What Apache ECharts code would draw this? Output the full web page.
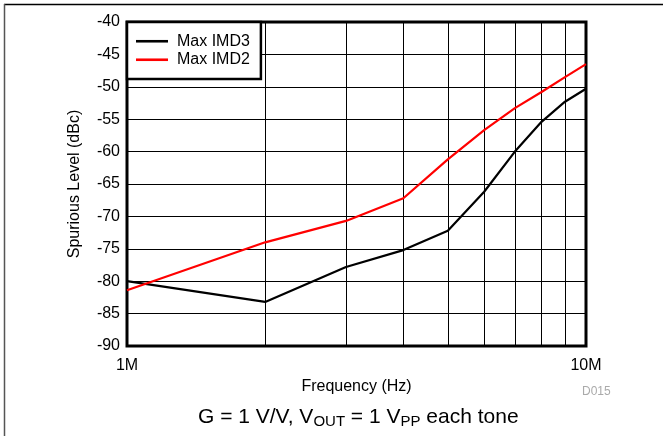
<!DOCTYPE html>
<html>
<head>
<meta charset="utf-8">
<script src="https://cdn.jsdelivr.net/npm/echarts@6/dist/echarts.min.js"></script>
<style>
  html, body { margin: 0; padding: 0; background: #fff; }
  #chart { width: 663px; height: 436px; }
</style>
</head>
<body>
<div id="chart"></div>
<script>
// ---- Data ----
const frequenciesHz = [1e6, 2e6, 3e6, 4e6, 5e6, 6e6, 7e6, 8e6, 9e6, 10e6];
const maxIMD3 = [-80.0, -83.2, -77.8, -75.2, -72.2, -66.2, -60.0, -55.4, -52.3, -50.3];
const maxIMD2 = [-81.4, -74.0, -70.7, -67.2, -61.2, -56.7, -53.3, -50.8, -48.5, -46.5];
const minorGridHz = [2e6, 3e6, 4e6, 5e6, 6e6, 7e6, 8e6, 9e6];
const seriesNames = ['Max IMD3', 'Max IMD2'];
const xAxisTitle = 'Frequency (Hz)';
const yAxisTitle = 'Spurious Level (dBc)';
const figureTag = 'D015';

const FONT = 'Liberation Sans, Arial, Helvetica, sans-serif';

function pairs(xs, ys) { return xs.map((x, i) => [x, ys[i]]); }

const chart = echarts.init(document.getElementById('chart'), null, { renderer: 'canvas' });

const option = {
  animation: false,
  backgroundColor: '#fff',
  textStyle: { fontFamily: FONT },
  grid: {
    left: 127, right: 77, top: 22, bottom: 90,
    show: true, borderColor: '#000', borderWidth: 3, backgroundColor: 'transparent'
  },
  legend: {
    orient: 'vertical',
    left: 127, top: 22,
    padding: [10, 11, 10, 9],
    backgroundColor: '#fff',
    borderColor: '#000',
    borderWidth: 2.5,
    itemWidth: 32,
    itemHeight: 14,
    itemGap: 0,
    textStyle: { fontSize: 16, color: '#000', fontFamily: FONT, lineHeight: 18.5, padding: [0, 0, 0, 4] },
    data: seriesNames.map(n => ({ name: n, icon: 'path://M0,0 L32,0 L32,2.6 L0,2.6 Z' })),
    selectedMode: false,
    z: 10
  },
  xAxis: {
    type: 'log',
    logBase: 10,
    min: 1e6, max: 1e7,
    name: xAxisTitle,
    nameLocation: 'middle',
    nameGap: 30,
    nameTextStyle: { fontSize: 16, color: '#000', fontFamily: FONT },
    axisLine: { show: false },
    axisTick: { show: false },
    splitLine: { show: false },
    axisLabel: {
      fontSize: 16, color: '#000', margin: 12, fontFamily: FONT,
      formatter: v => (v / 1e6) + 'M'
    }
  },
  yAxis: {
    type: 'value',
    min: -90, max: -40, interval: 5,
    name: yAxisTitle,
    nameLocation: 'middle',
    nameGap: 44,
    nameTextStyle: { fontSize: 16, color: '#000', fontFamily: FONT },
    axisLine: { show: false },
    axisTick: { show: false },
    splitLine: { show: true, lineStyle: { color: '#000', width: 1 } },
    axisLabel: { fontSize: 16, color: '#000', margin: 7, fontFamily: FONT }
  },
  series: [
    {
      name: seriesNames[0],
      type: 'line',
      data: pairs(frequenciesHz, maxIMD3),
      symbol: 'none',
      lineStyle: { color: '#000', width: 2.2 },
      itemStyle: { color: '#000' },
      z: 5,
      markLine: {
        silent: true,
        symbol: ['none', 'none'],
        label: { show: false },
        lineStyle: { color: '#000', width: 1, type: 'solid' },
        data: minorGridHz.map(f => ({ xAxis: f })),
        z: 1
      }
    },
    {
      name: seriesNames[1],
      type: 'line',
      data: pairs(frequenciesHz, maxIMD2),
      symbol: 'none',
      lineStyle: { color: '#ff0000', width: 2.2 },
      itemStyle: { color: '#ff0000' },
      z: 6
    }
  ],
  graphic: [
    { type: 'line', shape: { x1: 4, y1: 4.5, x2: 663, y2: 4.5 }, style: { stroke: '#000', lineWidth: 1.5 } },
    { type: 'line', shape: { x1: 4.5, y1: 4, x2: 4.5, y2: 436 }, style: { stroke: '#555', lineWidth: 1.5 } },
    {
      type: 'text', left: 582, top: 386,
      style: { text: figureTag, fontSize: 12, fill: '#aaa', fontFamily: FONT }
    },
    {
      type: 'text', left: 198, top: 407,
      style: {
        text: 'G = 1 V/V, V{s|OUT} = 1 V{s|PP} each tone',
        fontSize: 21, fill: '#000', fontFamily: FONT,
        rich: {
          s: { fontSize: 15, fill: '#000', fontFamily: FONT, padding: [8, 0, 0, 0] }
        }
      }
    }
  ]
};

chart.setOption(option);
</script>
</body>
</html>
